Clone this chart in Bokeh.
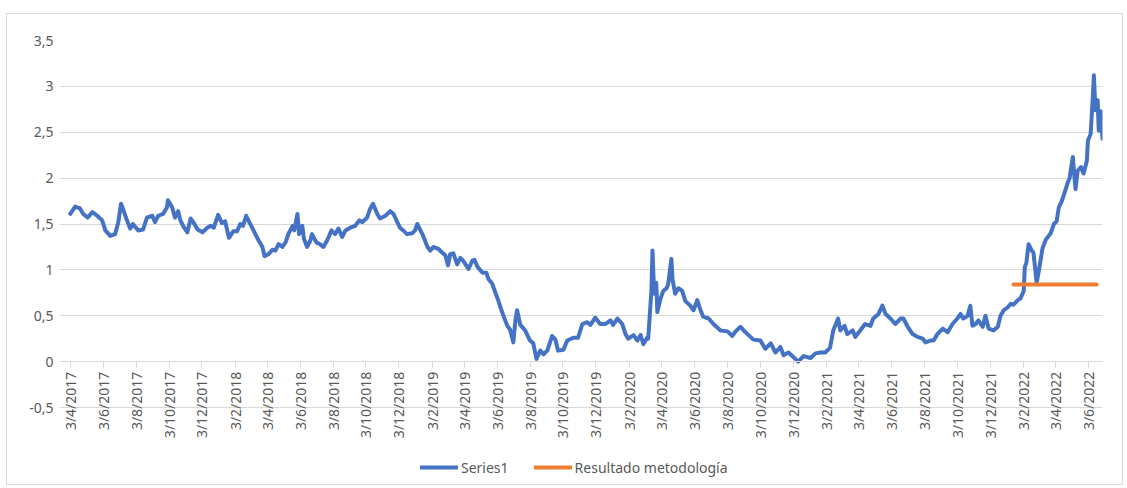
import pandas as pd
from bokeh.plotting import figure
from bokeh.models import (ColumnDataSource, FixedTicker, CustomJSTickFormatter, Legend,
                          LegendItem, Range1d)
from bokeh.embed import file_html
from bokeh.resources import INLINE

# ---------------- data ----------------
series_dates = [
    "2017-04-03", "2017-04-12", "2017-04-21", "2017-04-27", "2017-05-05", "2017-05-14", "2017-05-23",
    "2017-06-01", "2017-06-07", "2017-06-16", "2017-06-25", "2017-07-01", "2017-07-06", "2017-07-10",
    "2017-07-17", "2017-07-23", "2017-07-28", "2017-08-07", "2017-08-16", "2017-08-23", "2017-09-02",
    "2017-09-07", "2017-09-13", "2017-09-22", "2017-09-29", "2017-10-01", "2017-10-09", "2017-10-14",
    "2017-10-20", "2017-10-24", "2017-10-30", "2017-11-06", "2017-11-12", "2017-11-17", "2017-11-25",
    "2017-12-04", "2017-12-13", "2017-12-19", "2017-12-25",
    "2018-01-02", "2018-01-09", "2018-01-15", "2018-01-22", "2018-01-30", "2018-02-06", "2018-02-12",
    "2018-02-17", "2018-02-23", "2018-02-27", "2018-03-06", "2018-03-12", "2018-03-18", "2018-03-25",
    "2018-03-29", "2018-04-05", "2018-04-13", "2018-04-18", "2018-04-24", "2018-05-01", "2018-05-07",
    "2018-05-12", "2018-05-20", "2018-05-23", "2018-05-29", "2018-06-01", "2018-06-07", "2018-06-10",
    "2018-06-16", "2018-06-22", "2018-06-25", "2018-07-03", "2018-07-10", "2018-07-16", "2018-07-23",
    "2018-07-31", "2018-08-07", "2018-08-13", "2018-08-20", "2018-08-26", "2018-09-04", "2018-09-13",
    "2018-09-21", "2018-09-26", "2018-10-05", "2018-10-11", "2018-10-16", "2018-10-24", "2018-10-29",
    "2018-11-08", "2018-11-17", "2018-11-23", "2018-11-30", "2018-12-05", "2018-12-11", "2018-12-18",
    "2018-12-28",
    "2019-01-02", "2019-01-06", "2019-01-12", "2019-01-17", "2019-01-25", "2019-01-30", "2019-02-05",
    "2019-02-14", "2019-02-21", "2019-02-27", "2019-03-04", "2019-03-08", "2019-03-14", "2019-03-21",
    "2019-03-27", "2019-04-01", "2019-04-11", "2019-04-18", "2019-04-22", "2019-04-28", "2019-05-07",
    "2019-05-14", "2019-05-18", "2019-05-25", "2019-05-31", "2019-06-05", "2019-06-11", "2019-06-16",
    "2019-06-22", "2019-06-27", "2019-07-03", "2019-07-07", "2019-07-10", "2019-07-16", "2019-07-25",
    "2019-08-03", "2019-08-09", "2019-08-15", "2019-08-22", "2019-08-28", "2019-09-04", "2019-09-13",
    "2019-09-19", "2019-09-24", "2019-10-04", "2019-10-11", "2019-10-22", "2019-10-31", "2019-11-08",
    "2019-11-17", "2019-11-23", "2019-12-02", "2019-12-11", "2019-12-21", "2019-12-30",
    "2020-01-04", "2020-01-12", "2020-01-21", "2020-01-27", "2020-02-01", "2020-02-11", "2020-02-18",
    "2020-02-24", "2020-02-29", "2020-03-07", "2020-03-09", "2020-03-15", "2020-03-17", "2020-03-20",
    "2020-03-24", "2020-03-26", "2020-04-01", "2020-04-06", "2020-04-12", "2020-04-15", "2020-04-21",
    "2020-04-23", "2020-04-28", "2020-05-04", "2020-05-11", "2020-05-17", "2020-05-26", "2020-06-01",
    "2020-06-08", "2020-06-14", "2020-06-19", "2020-06-29", "2020-07-08", "2020-07-21", "2020-08-03",
    "2020-08-12", "2020-08-18", "2020-08-27", "2020-09-02", "2020-09-09", "2020-09-20", "2020-10-03",
    "2020-10-12", "2020-10-22", "2020-10-31", "2020-11-09", "2020-11-15", "2020-11-24", "2020-12-03",
    "2020-12-12", "2020-12-22",
    "2021-01-04", "2021-01-13", "2021-01-22", "2021-01-31", "2021-02-09", "2021-02-15", "2021-02-24",
    "2021-02-28", "2021-03-08", "2021-03-13", "2021-03-23", "2021-03-28", "2021-04-06", "2021-04-15",
    "2021-04-25", "2021-04-30", "2021-05-10", "2021-05-17", "2021-05-23", "2021-06-01", "2021-06-10",
    "2021-06-20", "2021-06-25", "2021-07-03", "2021-07-12", "2021-07-21", "2021-07-31", "2021-08-05",
    "2021-08-14", "2021-08-20", "2021-08-27", "2021-09-06", "2021-09-15", "2021-09-24", "2021-10-03",
    "2021-10-09", "2021-10-14", "2021-10-22", "2021-10-27", "2021-10-31", "2021-11-06", "2021-11-11",
    "2021-11-19", "2021-11-24", "2021-11-30", "2021-12-09", "2021-12-17", "2021-12-22", "2021-12-28",
    "2022-01-04", "2022-01-10", "2022-01-15", "2022-01-23", "2022-01-28", "2022-02-03", "2022-02-05",
    "2022-02-08", "2022-02-12", "2022-02-18", "2022-02-21", "2022-02-27", "2022-03-03", "2022-03-10",
    "2022-03-16", "2022-03-25", "2022-03-31", "2022-04-05", "2022-04-09", "2022-04-14", "2022-04-18",
    "2022-04-25", "2022-04-29", "2022-05-05", "2022-05-07", "2022-05-10", "2022-05-14", "2022-05-20",
    "2022-05-25", "2022-05-31", "2022-06-02", "2022-06-07", "2022-06-11", "2022-06-13", "2022-06-16",
    "2022-06-20", "2022-06-22", "2022-06-26", "2022-06-29",
]
series_values = [
    1.61, 1.69, 1.67, 1.61, 1.57, 1.63, 1.59,
    1.54, 1.43, 1.37, 1.39, 1.52, 1.72, 1.66,
    1.54, 1.45, 1.50, 1.43, 1.44, 1.57, 1.59,
    1.52, 1.59, 1.61, 1.68, 1.76, 1.68, 1.57,
    1.64, 1.54, 1.47, 1.41, 1.56, 1.52, 1.44,
    1.41, 1.46, 1.48, 1.46,
    1.60, 1.51, 1.53, 1.35, 1.42, 1.42, 1.50,
    1.48, 1.59, 1.54, 1.46, 1.39, 1.32, 1.25,
    1.15, 1.17, 1.22, 1.21, 1.28, 1.25, 1.30,
    1.39, 1.48, 1.43, 1.61, 1.39, 1.48, 1.34,
    1.25, 1.32, 1.39, 1.30, 1.28, 1.25, 1.32,
    1.43, 1.39, 1.45, 1.36, 1.43, 1.46, 1.48,
    1.54, 1.52, 1.57, 1.67, 1.72, 1.61, 1.56,
    1.59, 1.64, 1.61, 1.52, 1.46, 1.43, 1.39,
    1.40,
    1.43, 1.50, 1.43, 1.37, 1.25, 1.21, 1.25,
    1.23, 1.19, 1.16, 1.05, 1.17, 1.18, 1.06,
    1.13, 1.10, 1.01, 1.10, 1.11, 1.03, 0.97,
    0.97, 0.90, 0.85, 0.75, 0.67, 0.56, 0.48,
    0.39, 0.35, 0.21, 0.45, 0.56, 0.40, 0.34,
    0.23, 0.20, 0.03, 0.12, 0.08, 0.12, 0.28,
    0.24, 0.12, 0.13, 0.23, 0.26, 0.26, 0.41,
    0.43, 0.40, 0.48, 0.41, 0.41, 0.45,
    0.40, 0.47, 0.41, 0.30, 0.25, 0.29, 0.23,
    0.29, 0.19, 0.26, 0.25, 0.77, 1.21, 0.74,
    0.86, 0.54, 0.69, 0.77, 0.80, 0.84, 1.12,
    0.90, 0.74, 0.80, 0.77, 0.66, 0.61, 0.56,
    0.67, 0.56, 0.49, 0.47, 0.41, 0.34, 0.33,
    0.28, 0.33, 0.38, 0.34, 0.30, 0.24, 0.23,
    0.14, 0.20, 0.10, 0.16, 0.07, 0.10, 0.05,
    0.00, 0.06,
    0.04, 0.09, 0.10, 0.10, 0.15, 0.34, 0.47,
    0.34, 0.39, 0.30, 0.34, 0.27, 0.34, 0.41,
    0.39, 0.47, 0.52, 0.61, 0.52, 0.47, 0.41,
    0.47, 0.47, 0.38, 0.30, 0.27, 0.25, 0.21,
    0.23, 0.23, 0.30, 0.36, 0.32, 0.41, 0.47,
    0.52, 0.47, 0.50, 0.61, 0.39, 0.41, 0.45,
    0.38, 0.50, 0.36, 0.34, 0.38, 0.50, 0.56,
    0.59, 0.63, 0.62, 0.67, 0.69, 0.77, 1.03,
    1.08, 1.28, 1.21, 1.19, 0.86, 0.99, 1.24,
    1.33, 1.40, 1.50, 1.53, 1.68, 1.74, 1.81,
    1.94, 2.00, 2.23, 2.08, 1.88, 2.08, 2.12,
    2.05, 2.19, 2.41, 2.48, 2.88, 3.12, 2.74,
    2.85, 2.52, 2.73, 2.43,
]
result_dates = ["2022-01-15", "2022-06-18"]
result_values = [0.84, 0.84]

x_tick_labels = ["3/4/2017", "3/6/2017", "3/8/2017", "3/10/2017", "3/12/2017",
                 "3/2/2018", "3/4/2018", "3/6/2018", "3/8/2018", "3/10/2018", "3/12/2018",
                 "3/2/2019", "3/4/2019", "3/6/2019", "3/8/2019", "3/10/2019", "3/12/2019",
                 "3/2/2020", "3/4/2020", "3/6/2020", "3/8/2020", "3/10/2020", "3/12/2020",
                 "3/2/2021", "3/4/2021", "3/6/2021", "3/8/2021", "3/10/2021", "3/12/2021",
                 "3/2/2022", "3/4/2022", "3/6/2022"]
y_ticks = [-0.5, 0, 0.5, 1, 1.5, 2, 2.5, 3, 3.5]

# ---------------- plot ----------------
FONT = "Noto Sans"
TXT = "#595959"
GRID = "#D9D9D9"

epoch = pd.Timestamp("1970-01-01")
def to_ms(ts):
    return float((pd.Timestamp(ts) - epoch) / pd.Timedelta(milliseconds=1))

tick_dates = pd.to_datetime(x_tick_labels, format="%d/%m/%Y")
x_ticks_ms = [to_ms(d) for d in tick_dates]

# plot-area span in dates (first and last day of the series)
area_start = series_dates[0]
area_end = series_dates[-1]
area_bounds = (to_ms(area_start), to_ms(area_end))

src1 = ColumnDataSource(dict(date=pd.to_datetime(series_dates), value=series_values))
src2 = ColumnDataSource(dict(date=pd.to_datetime(result_dates), value=result_values))

# ranges are padded (left in x, below -0.5 in y) so that the date labels and the legend,
# which sit around the zero line, stay inside the drawing area; grid and axis are bounded
p = figure(width=1117, height=472, x_axis_type="datetime", output_backend="svg",
           toolbar_location=None,
           x_range=Range1d(pd.Timestamp(area_start) - pd.Timedelta(days=20), pd.Timestamp(area_end)),
           y_range=Range1d(-1.339, 3.5),
           min_border_left=52, min_border_right=22, min_border_top=26, min_border_bottom=2)
p.margin = (13, 0, 0, 6)
p.styles = {"border": "1px solid #D9D9D9"}
p.outline_line_color = None
p.background_fill_color = "white"
p.border_fill_color = "white"

r1 = p.line(x="date", y="value", source=src1, line_color="#4472C4", line_width=4,
            line_join="round", line_cap="round")
r2 = p.line(x="date", y="value", source=src2, line_color="#ED7D31", line_width=4,
            line_cap="round")

# grid
p.xgrid.grid_line_color = None
p.ygrid.grid_line_color = GRID
p.ygrid.grid_line_width = 1
p.ygrid.bounds = area_bounds

# y axis
yax = p.yaxis[0]
yax.ticker = FixedTicker(ticks=y_ticks)
yax.formatter = CustomJSTickFormatter(code="return tick.toString().replace('.', ',');")
yax.axis_line_color = None
yax.major_tick_line_color = None
yax.minor_tick_line_color = None
yax.major_tick_out = 0
yax.major_label_standoff = 6
yax.major_label_text_font = FONT
yax.major_label_text_font_size = "14px"
yax.major_label_text_color = TXT

# x axis, drawn at y = 0
xax = p.xaxis[0]
xax.fixed_location = 0
xax.bounds = area_bounds
xax.ticker = FixedTicker(ticks=x_ticks_ms)
xax.formatter = CustomJSTickFormatter(code="""
const d = new Date(tick);
return d.getUTCDate() + "/" + (d.getUTCMonth() + 1) + "/" + d.getUTCFullYear();
""")
xax.axis_line_color = GRID
xax.axis_line_width = 1
xax.major_tick_line_color = GRID
xax.major_tick_out = 6
xax.major_tick_in = 0
xax.minor_tick_line_color = None
xax.major_label_standoff = 4
xax.major_label_orientation = 3.14159265 / 2
xax.major_label_text_font = FONT
xax.major_label_text_font_size = "14px"
xax.major_label_text_color = TXT

legend = Legend(items=[LegendItem(label="Series1", renderers=[r1]),
                       LegendItem(label="Resultado metodología", renderers=[r2])],
                orientation="horizontal", location=(361, 7),
                border_line_color=None, background_fill_alpha=0,
                padding=0, margin=0, spacing=25, glyph_width=38, glyph_height=20,
                label_standoff=3, label_text_font=FONT, label_text_font_size="14px",
                label_text_color=TXT, label_height=20)
p.add_layout(legend, "center")

open("out.html", "w").write(file_html(p, INLINE))
